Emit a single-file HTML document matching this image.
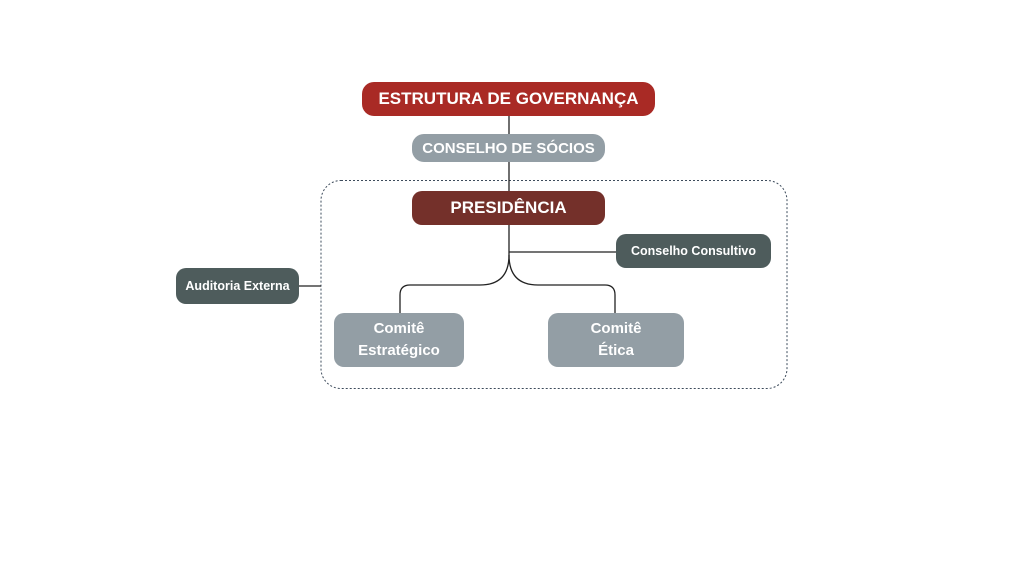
<!DOCTYPE html>
<html><head><style>
body{margin:0;width:1024px;height:570px;background:#fff;position:relative;overflow:hidden;font-family:"Liberation Sans",sans-serif;}
.b{position:absolute;display:flex;align-items:center;justify-content:center;text-align:center;color:#fff;font-weight:bold;box-sizing:border-box;}
</style></head><body>
<svg width="1024" height="570" style="position:absolute;left:0;top:0">
<rect x="321" y="180.5" width="466" height="208" rx="20" fill="none" stroke="#3e4c5c" stroke-width="1" stroke-dasharray="2,2"/>
<g fill="none" stroke="#222" stroke-width="1.3">
<path d="M509 116 V255"/>
<path d="M509 252 H616"/>
<path d="M509 255 Q509 285 480 285 H410 Q400 285 400 295 V313"/>
<path d="M509 255 Q509 285 538 285 H605 Q615 285 615 295 V313"/>
<path d="M299 286 H321"/>
</g>
</svg>
<div class="b" style="left:362px;top:82px;width:293px;height:34px;background:#a92a25;border-radius:12px;font-size:17px;">ESTRUTURA DE GOVERNANÇA</div>
<div class="b" style="left:412px;top:134px;width:193px;height:28px;background:#939ea5;border-radius:12px;font-size:15px;">CONSELHO DE SÓCIOS</div>
<div class="b" style="left:412px;top:191px;width:193px;height:34px;background:#74302a;border-radius:10px;font-size:17px;">PRESIDÊNCIA</div>
<div class="b" style="left:616px;top:234px;width:155px;height:34px;background:#4e5c5c;border-radius:10px;font-size:12.5px;">Conselho Consultivo</div>
<div class="b" style="left:176px;top:268px;width:123px;height:36px;background:#4e5c5c;border-radius:10px;font-size:12.5px;">Auditoria Externa</div>
<div class="b" style="left:334px;top:313px;width:130px;height:54px;background:#939ea5;border-radius:10px;font-size:15px;line-height:22px;">Comitê<br>Estratégico</div>
<div class="b" style="left:548px;top:313px;width:136px;height:54px;background:#939ea5;border-radius:10px;font-size:15px;line-height:22px;">Comitê<br>Ética</div>
</body></html>
